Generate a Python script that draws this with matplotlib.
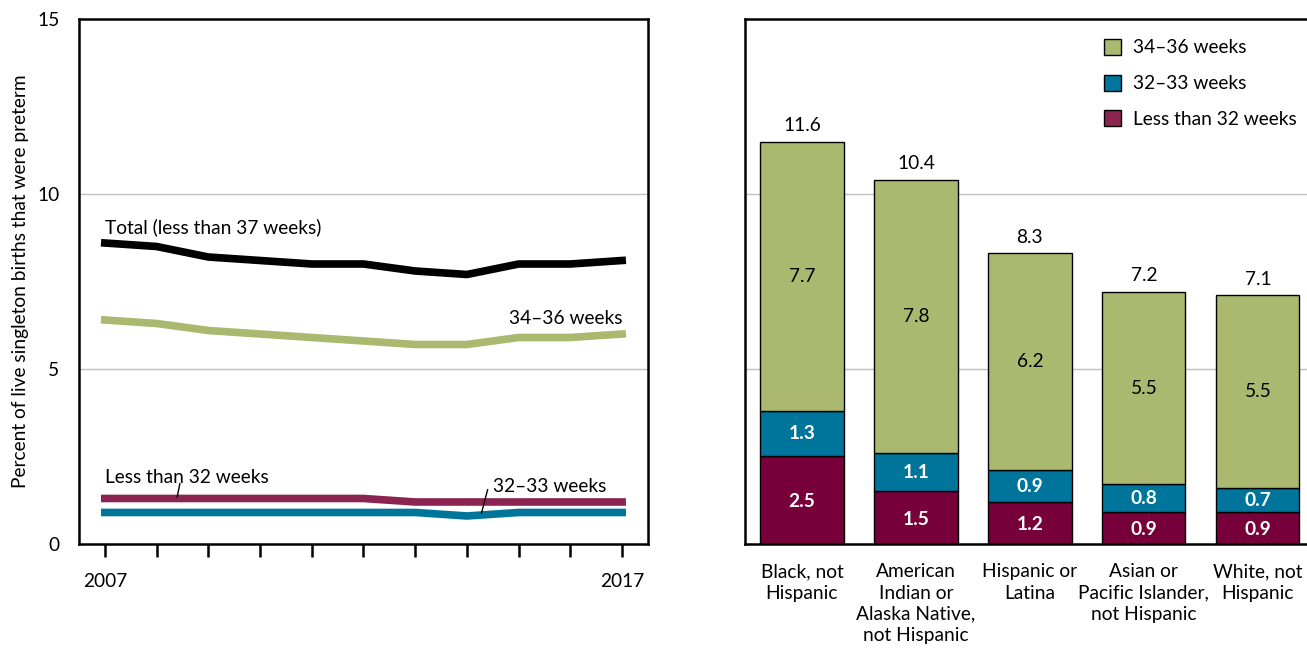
import numpy as np
import matplotlib
matplotlib.use("Agg")
import matplotlib.pyplot as plt
from matplotlib.patches import Patch

plt.rcParams['font.family'] = ['Lato', 'DejaVu Sans']
plt.rcParams['font.size'] = 13.8

# trend data, 2007-2017
years = np.arange(2007, 2018)
total = [8.6, 8.5, 8.2, 8.1, 8.0, 8.0, 7.8, 7.7, 8.0, 8.0, 8.1]
w34_36_trend = [6.4, 6.3, 6.1, 6.0, 5.9, 5.8, 5.7, 5.7, 5.9, 5.9, 6.0]
lt32_trend = [1.3, 1.3, 1.3, 1.3, 1.3, 1.3, 1.2, 1.2, 1.2, 1.2, 1.2]
w32_33_trend = [0.9, 0.9, 0.9, 0.9, 0.9, 0.9, 0.9, 0.8, 0.9, 0.9, 0.9]

# 2017 by race and Hispanic origin
groups = ["Black, not\nHispanic", "American\nIndian or\nAlaska Native,\nnot Hispanic",
          "Hispanic or\nLatina", "Asian or\nPacific Islander,\nnot Hispanic",
          "White, not\nHispanic"]
lt32 = [2.5, 1.5, 1.2, 0.9, 0.9]
w32_33 = [1.3, 1.1, 0.9, 0.8, 0.7]
w34_36 = [7.7, 7.8, 6.2, 5.5, 5.5]
totals = [11.6, 10.4, 8.3, 7.2, 7.1]

green = '#abb970'
teal = '#00759c'
maroon_line = '#8b2450'
maroon_bar = '#78003a'
grid_c = '#c0c0c0'

fig = plt.figure(figsize=(13.07, 6.51), dpi=100)
ax1 = fig.add_axes([0.0604, 0.1644, 0.4354, 0.8064])
ax2 = fig.add_axes([0.570, 0.1644, 0.436, 0.8064])

# ---- left panel: lines
lw = 5.5
ax1.plot(years, total, color='black', lw=lw)
ax1.plot(years, w34_36_trend, color=green, lw=lw)
ax1.plot(years, lt32_trend, color=maroon_line, lw=lw)
ax1.plot(years, w32_33_trend, color=teal, lw=lw)

ax1.set_xlim(2006.5, 2017.5)
ax1.set_ylim(0, 15)
ax1.set_yticks([0, 5, 10, 15])
ax1.set_xticks(years)
ax1.set_xticklabels(['2007'] + [''] * 9 + ['2017'])
ax1.tick_params(axis='y', length=0, pad=14)
ax1.tick_params(axis='x', length=9, width=1.8, direction='out', pad=12)
for y in [5, 10]:
    ax1.axhline(y, color=grid_c, lw=1, zorder=0)
for s in ax1.spines.values():
    s.set_linewidth(1.8)
ax1.set_ylabel("Percent of live singleton births that were preterm", labelpad=6)

ax1.text(2007, 8.8, "Total (less than 37 weeks)", ha='left', va='bottom')
ax1.text(2017, 6.2, "34\u201336 weeks", ha='right', va='bottom')
ax1.text(2007, 1.65, "Less than 32 weeks", ha='left', va='bottom')
ax1.plot([2008.45, 2008.4], [1.72, 1.35], color='black', lw=1)
ax1.text(2014.5, 1.4, "32\u201333 weeks", ha='left', va='bottom')
ax1.plot([2014.4, 2014.28], [1.55, 0.88], color='black', lw=1)

# ---- right panel: stacked bars
x = np.arange(len(groups))
bw = 0.73
ax2.bar(x, lt32, bw, color=maroon_bar, edgecolor='black', lw=1)
ax2.bar(x, w32_33, bw, bottom=lt32, color=teal, edgecolor='black', lw=1)
b2 = np.array(lt32) + np.array(w32_33)
ax2.bar(x, w34_36, bw, bottom=b2, color=green, edgecolor='black', lw=1)
top = b2 + np.array(w34_36)

for i in x:
    ax2.text(i, top[i] + 0.22, f"{totals[i]}", ha='center', va='bottom')
    ax2.text(i, b2[i] + w34_36[i] / 2, f"{w34_36[i]}", ha='center', va='center')
    ax2.text(i, lt32[i] + w32_33[i] / 2, f"{w32_33[i]}", ha='center', va='center',
             color='white', fontweight='bold')
    ax2.text(i, lt32[i] / 2 - 0.05, f"{lt32[i]}", ha='center', va='center',
             color='white', fontweight='bold')

ax2.set_xlim(-0.5, 4.5)
ax2.set_ylim(0, 15)
ax2.set_yticks([])
ax2.set_xticks(x)
ax2.set_xticklabels(groups, va='top', linespacing=1.3)
ax2.tick_params(axis='x', length=0, pad=14)
for y in [5, 10]:
    ax2.axhline(y, color=grid_c, lw=1, zorder=0)
for s in ax2.spines.values():
    s.set_linewidth(1.8)
ax2.spines['right'].set_visible(False)

handles = [Patch(facecolor=green, edgecolor='black', lw=1),
           Patch(facecolor=teal, edgecolor='black', lw=1),
           Patch(facecolor=maroon_line, edgecolor='black', lw=1)]
ax2.legend(handles, ["34\u201336 weeks", "32\u201333 weeks", "Less than 32 weeks"],
           loc='upper left', bbox_to_anchor=(0.6, 0.995), frameon=False,
           handlelength=0.9, handleheight=0.9, handletextpad=0.6, labelspacing=0.95)

fig.savefig("out.png", dpi=100)
